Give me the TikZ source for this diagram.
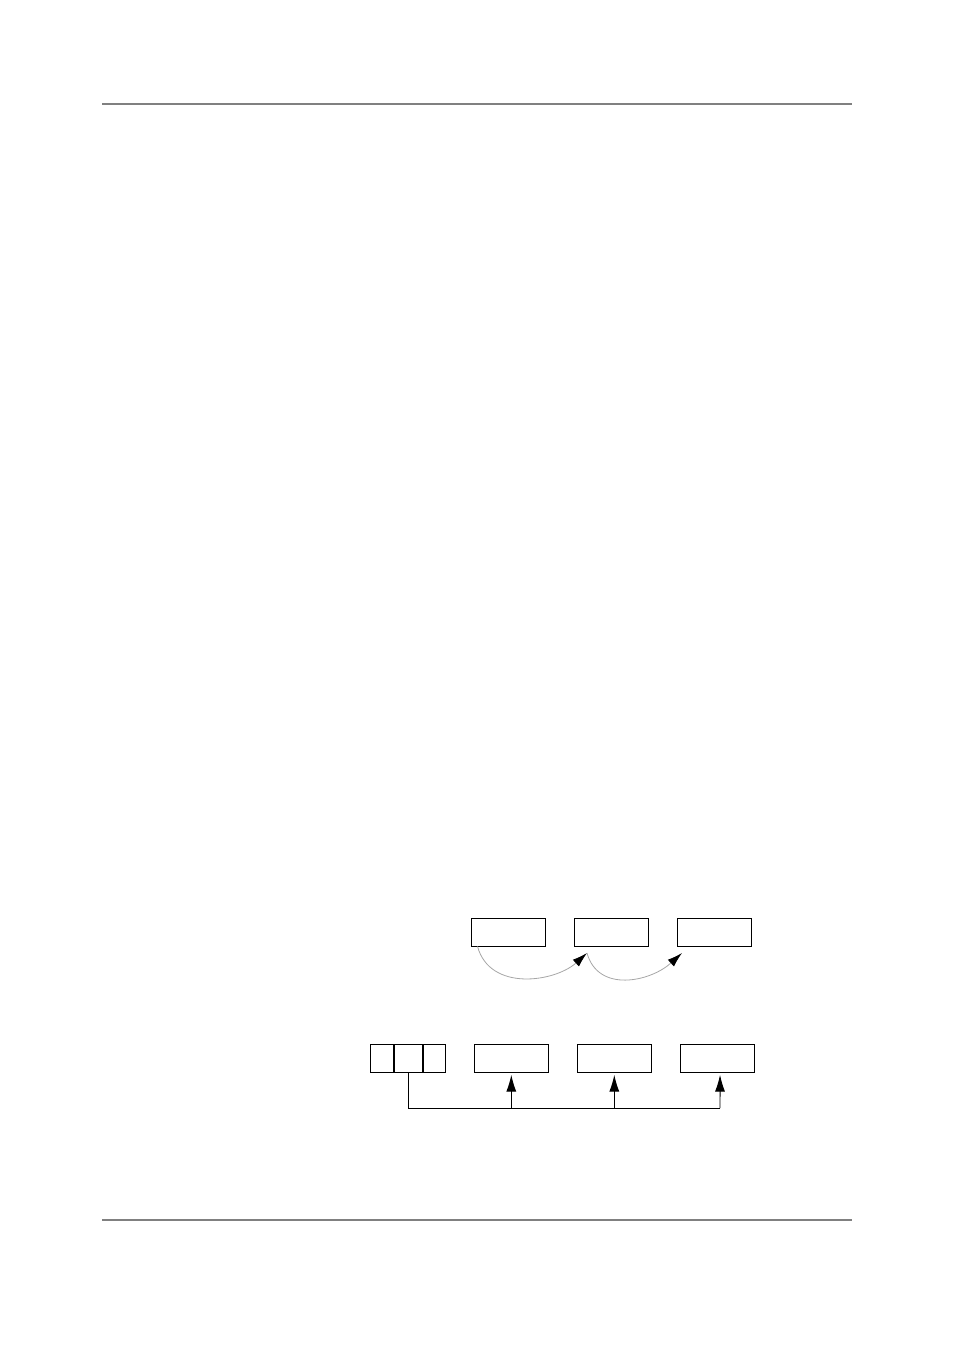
\documentclass[tikz,border=0pt]{standalone}
\usetikzlibrary{arrows.meta}
\begin{document}
\begin{tikzpicture}[x=0.022cm,y=-0.022cm,
	box/.style={draw,line width=0.6pt,inner sep=0pt,minimum width=1.628cm,minimum height=0.616cm},
	part/.style={draw,line width=0.6pt,inner sep=0pt,minimum height=0.616cm},
	bend tip/.style={-{Latex[length=0.33cm,width=0.2cm,color=black]},draw=gray!70,line width=0.5pt},
	up tip/.style={-{Latex[length=0.37cm,width=0.22cm]},line width=0.6pt,shorten >=0.05cm}]
	\useasboundingbox (0,0) rectangle (954,1350);
	\draw[gray,line width=0.7pt] (102,104) coordinate (rl) -- (852,104) coordinate (rr);
	\draw[gray,line width=0.7pt] (102,1220) coordinate (fl) -- (852,1220) coordinate (fr);
	% upper row
	\node[box] (t1) at (508,932) {};
	\node[box] (t2) at (611,932) {};
	\node[box] (t3) at (714,932) {};
	\coordinate (j1) at (587,953);
	\coordinate (j2) at (682,953);
	\draw[bend tip] ([xshift=0.154cm]t1.south west) .. controls (490,992) and (555,982) .. (j1);
	\draw[bend tip] (j1) .. controls (598,993) and (650,982) .. (j2);
	% lower row
	\node[part,minimum width=0.497cm] (c1) at (382,1058) {};
	\node[part,minimum width=0.625cm,anchor=west] (c2) at (c1.east) {};
	\node[part,minimum width=0.49cm,anchor=west] (c3) at (c2.east) {};
	\node[box] (b1) at (511.3,1058) {};
	\node[box] (b2) at (614.3,1058) {};
	\node[box] (b3) at (717.3,1058) {};
	\coordinate (e3) at ([xshift=0.06cm]b3.south);
	\coordinate (bus) at (720,1108);
	\draw[line width=0.6pt] (c2.south) |- (bus);
	\draw[up tip] (b1.south |- bus) -- (b1.south);
	\draw[up tip] (b2.south |- bus) -- (b2.south);
	\draw[up tip] (bus) -- (e3);
\end{tikzpicture}
\end{document}
